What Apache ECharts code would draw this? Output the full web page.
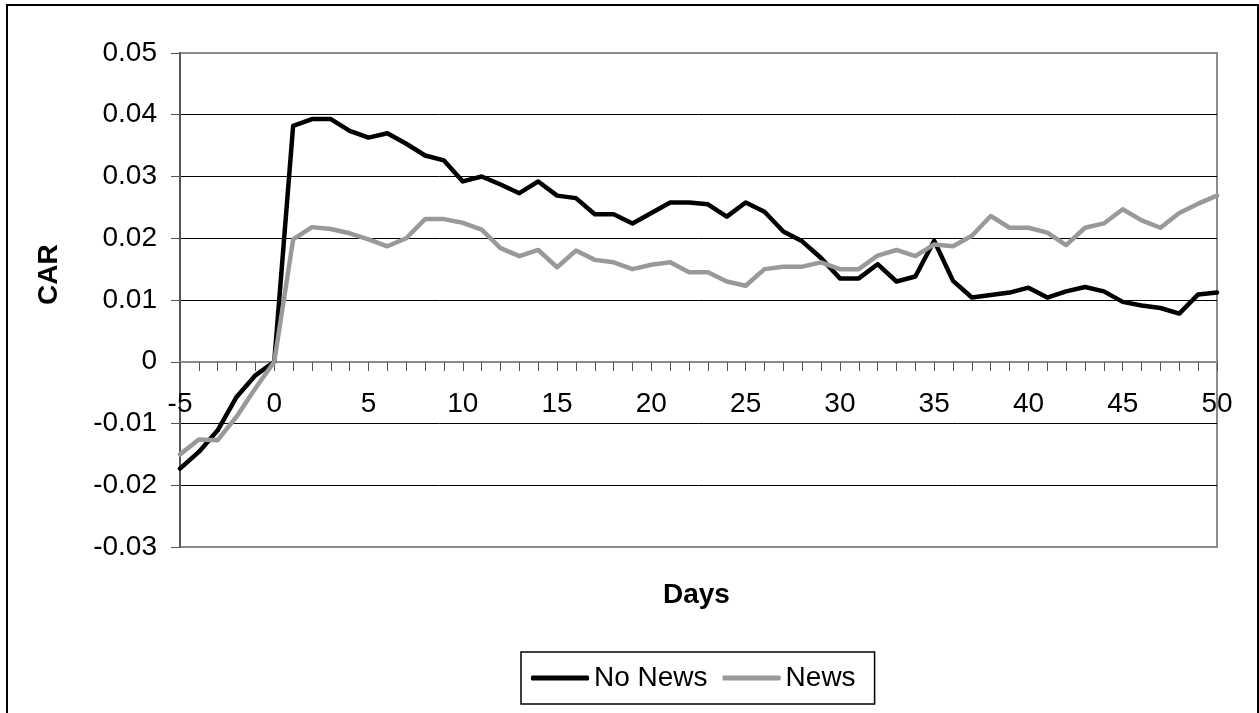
<!DOCTYPE html>
<html>
<head>
<meta charset="utf-8">
<script src="https://cdn.jsdelivr.net/npm/echarts@6/dist/echarts.min.js"></script>
<style>
  html, body { margin: 0; padding: 0; background: #ffffff; }
  #EchartsShow { width: 1259px; height: 713px; }
</style>
</head>
<body>
<div id="EchartsShow"></div>
<script>
  var days = [-5, -4, -3, -2, -1, 0, 1, 2, 3, 4, 5, 6, 7, 8, 9, 10,
    11, 12, 13, 14, 15, 16, 17, 18, 19, 20, 21, 22, 23, 24, 25, 26, 27, 28, 29, 30,
    31, 32, 33, 34, 35, 36, 37, 38, 39, 40, 41, 42, 43, 44, 45, 46, 47, 48, 49, 50];

  var noNews = [-0.0173, -0.0146, -0.0111, -0.0057, -0.0022, 0,
    0.0382, 0.0393, 0.0393, 0.0374, 0.0363, 0.0370, 0.0353, 0.0334, 0.0326, 0.0292,
    0.0300, 0.0287, 0.0273, 0.0292, 0.0269, 0.0265, 0.0239, 0.0239, 0.0224, 0.0241,
    0.0258, 0.0258, 0.0255, 0.0235, 0.0258, 0.0243, 0.0211, 0.0195, 0.0168, 0.0135,
    0.0135, 0.0158, 0.0130, 0.0138, 0.0196, 0.0131, 0.0104, 0.0108, 0.0112, 0.0120,
    0.0104, 0.0114, 0.0121, 0.0114, 0.0097, 0.0091, 0.0087, 0.0078, 0.0109, 0.0112];

  var news = [-0.0150, -0.0126, -0.0127, -0.0089, -0.0043, 0,
    0.0198, 0.0218, 0.0215, 0.0208, 0.0198, 0.0187, 0.0200, 0.0231, 0.0231, 0.0225,
    0.0214, 0.0184, 0.0171, 0.0181, 0.0153, 0.0180, 0.0165, 0.0161, 0.0150, 0.0157,
    0.0161, 0.0145, 0.0145, 0.0130, 0.0123, 0.0150, 0.0154, 0.0154, 0.0161, 0.0150,
    0.0150, 0.0172, 0.0181, 0.0171, 0.0190, 0.0187, 0.0204, 0.0236, 0.0217, 0.0217,
    0.0209, 0.0189, 0.0217, 0.0224, 0.0247, 0.0229, 0.0217, 0.0241, 0.0256, 0.0269];

  var yTicks = { min: -0.03, max: 0.05, interval: 0.01 };

  var font = "Liberation Sans, Arial, sans-serif";

  // plot is 494px tall, zero sits 3/8 of the way up
  var zeroOffset = -185;

  var chartOptions = {
    animation: false,
    backgroundColor: "#ffffff",
    textStyle: { fontFamily: font },
    grid: {
      left: 180,
      right: 42,
      top: 53,
      bottom: 166,
      show: true,
      borderColor: "#8c8c8c",
      borderWidth: 2,
      containLabel: false,
    },
    graphic: [
      {
        type: "rect",
        shape: { x: 7, y: 5, width: 1251, height: 730 },
        style: { fill: "none", stroke: "#000000", lineWidth: 2 },
        silent: true,
      },
      {
        type: "text",
        left: 663,
        top: 581,
        style: {
          text: "Days",
          fontFamily: font,
          fontSize: 28,
          fontWeight: "bold",
          fill: "#000000",
        },
      },
      {
        type: "text",
        x: 35,
        y: 305,
        rotation: Math.PI / 2,
        style: {
          text: "CAR",
          fontFamily: font,
          fontSize: 28,
          fontWeight: "bold",
          fill: "#000000",
        },
      },
    ],
    legend: {
      left: 521,
      top: 652,
      padding: [12, 19, 12, 10],
      itemGap: 15,
      itemWidth: 58,
      itemHeight: 5,
      borderColor: "#000000",
      borderWidth: 1.5,
      textStyle: { fontFamily: font, fontSize: 28, color: "#000000" },
      data: [
        { name: "No News", icon: "roundRect" },
        { name: "News", icon: "roundRect" },
      ],
    },
    xAxis: {
      type: "category",
      data: days,
      boundaryGap: false,
      position: "bottom",
      offset: zeroOffset,
      axisLine: {
        onZero: false,
        lineStyle: { color: "#8c8c8c", width: 2 },
      },
      axisTick: {
        show: true,
        interval: 0,
        length: 9,
        lineStyle: { color: "#555555", width: 1 },
      },
      axisLabel: {
        interval: 4,
        margin: 28,
        fontSize: 28,
        fontFamily: font,
        color: "#000000",
      },
      splitLine: { show: false },
    },
    yAxis: {
      type: "value",
      min: yTicks.min,
      max: yTicks.max,
      interval: yTicks.interval,
      axisLine: {
        show: true,
        lineStyle: { color: "#555555", width: 2 },
      },
      axisTick: {
        show: true,
        length: 9,
        lineStyle: { color: "#555555", width: 1 },
      },
      axisLabel: {
        margin: 23,
        fontSize: 28,
        fontFamily: font,
        color: "#000000",
      },
      splitLine: {
        show: true,
        lineStyle: {
          // ends are drawn by the grey plot border
          color: ["transparent", "#000000", "#000000", "#000000", "#000000",
            "#000000", "#000000", "#000000", "transparent"],
          width: 1,
        },
      },
    },
    series: [
      {
        name: "No News",
        type: "line",
        data: noNews,
        symbol: "none",
        color: "#000000",
        lineStyle: { color: "#000000", width: 4.5, cap: "round", join: "round" },
      },
      {
        name: "News",
        type: "line",
        data: news,
        symbol: "none",
        color: "#999999",
        lineStyle: { color: "#999999", width: 4.5, cap: "round", join: "round" },
      },
    ],
  };

  var myChart = echarts.init(document.getElementById("EchartsShow"));
  myChart.setOption(chartOptions);
</script>
</body>
</html>
